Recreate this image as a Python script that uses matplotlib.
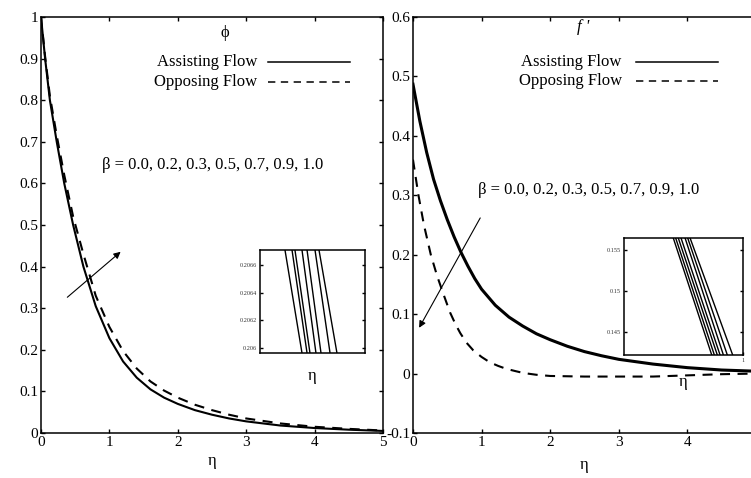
import matplotlib.pyplot as plt
from matplotlib.ticker import FuncFormatter

plt.rcParams['font.family'] = ['Liberation Serif', 'DejaVu Serif']

# ---- data ----
beta_text = "β = 0.0, 0.2, 0.3, 0.5, 0.7, 0.9, 1.0"

# left panel: concentration phi
eta_phi = [0, 0.06, 0.13, 0.23, 0.34, 0.47, 0.62, 0.8, 1.0, 1.2, 1.4, 1.6, 1.8, 2.0,
           2.25, 2.5, 2.75, 3.0, 3.5, 4.0, 4.5, 5.0]
phi_assist = [1.0, 0.9, 0.8, 0.7, 0.6, 0.5, 0.4, 0.305, 0.228, 0.172, 0.133, 0.105, 0.085, 0.07,
              0.055, 0.044, 0.035, 0.028, 0.018, 0.012, 0.008, 0.005]
phi_oppose = [1.0, 0.905, 0.81, 0.715, 0.62, 0.52, 0.43, 0.33, 0.255, 0.197, 0.155, 0.124, 0.102, 0.085,
              0.068, 0.055, 0.044, 0.035, 0.023, 0.015, 0.01, 0.006]

# right panel: velocity f'
eta_f_assist = [0, 0.1, 0.2, 0.3, 0.4, 0.5, 0.6, 0.7, 0.8, 0.9, 1.0, 1.2, 1.4, 1.6, 1.8, 2.0,
                2.25, 2.5, 2.75, 3.0, 3.5, 4.0, 4.5, 5.0]
f_assist = [0.487, 0.425, 0.372, 0.327, 0.291, 0.259, 0.230, 0.204, 0.181, 0.160, 0.142, 0.115,
            0.095, 0.080, 0.067, 0.057, 0.046, 0.037, 0.030, 0.024, 0.016, 0.010, 0.006, 0.004]
eta_f_oppose = [0, 0.04, 0.08, 0.16, 0.26, 0.35, 0.44, 0.54, 0.62, 0.69, 0.78, 0.88, 1.0, 1.12,
                1.24, 1.36, 1.5, 1.61, 1.8, 2.0, 2.5, 3.0, 3.5, 4.0, 4.5, 5.0]
f_oppose = [0.36, 0.33, 0.30, 0.25, 0.20, 0.165, 0.135, 0.103, 0.083, 0.068, 0.052, 0.039, 0.028,
            0.019, 0.013, 0.008, 0.004, 0.001, -0.002, -0.004, -0.005, -0.005, -0.005, -0.003,
            -0.001, 0.0]

# zoomed insets: one line per beta, x where it enters the top and leaves the bottom
phi_inset_ylim = [0.20596, 0.20671]
phi_inset_top = [0.238, 0.305, 0.333, 0.400, 0.448, 0.524, 0.562]
phi_inset_bot = [0.400, 0.448, 0.476, 0.533, 0.581, 0.667, 0.733]
phi_inset_ticks = [0.206, 0.2062, 0.2064, 0.2066]

f_inset_ylim = [0.1422, 0.1565]
f_inset_top = [0.414, 0.434, 0.456, 0.479, 0.513, 0.535, 0.555]
f_inset_bot = [0.737, 0.759, 0.784, 0.807, 0.835, 0.868, 0.913]
f_inset_ticks = [0.145, 0.15, 0.155]

fmt = FuncFormatter(lambda v, p: '%g' % round(v, 6))
dash = (0, (4.8, 3.6))


def style_box(ax, size=11):
    for s in ax.spines.values():
        s.set_linewidth(1.1)
    ax.tick_params(direction='in', top=True, right=True, length=3, width=1,
                   labelsize=size, pad=2)


def add_legend(ax, xt, x0, x1, y1, y2):
    ax.text(xt, y1, "Assisting Flow", transform=ax.transAxes, ha='right', va='center', fontsize=12)
    ax.text(xt, y2, "Opposing Flow", transform=ax.transAxes, ha='right', va='center', fontsize=12)
    ax.plot([x0, x1], [y1, y1], color='black', lw=1.1, transform=ax.transAxes)
    ax.plot([x0, x1], [y2, y2], color='black', lw=1.1, linestyle=dash, transform=ax.transAxes)


def draw_inset(ax, top, bot, ylim, ticks):
    for xt, xb in zip(top, bot):
        ax.plot([xt, xb], [ylim[1], ylim[0]], color='black', lw=1.0)
    ax.set_xlim(0, 1)
    ax.set_ylim(ylim)
    ax.set_yticks(ticks)
    ax.yaxis.set_major_formatter(fmt)
    for s in ax.spines.values():
        s.set_linewidth(1.1)
    ax.tick_params(direction='in', right=True, length=2, width=1,
                   labelsize=4.5, labelcolor='#333333', pad=2)


fig = plt.figure(figsize=(7.51, 4.78), dpi=100)

# ---- left panel ----
ax1 = fig.add_axes([0.0546, 0.0941, 0.4554, 0.8703])
ax1.plot(eta_phi, phi_assist, color='black', lw=1.5)
ax1.plot(eta_phi, phi_oppose, color='black', lw=1.5, linestyle=dash)
ax1.set_xlim(0, 5)
ax1.set_ylim(0, 1)
ax1.set_xticks(range(6))
ax1.set_yticks([i / 10 for i in range(11)])
ax1.xaxis.set_major_formatter(fmt)
ax1.yaxis.set_major_formatter(fmt)
style_box(ax1)
ax1.set_xlabel("η", fontsize=12, labelpad=3)
ax1.text(0.538, 0.962, "ϕ", transform=ax1.transAxes, ha='center', va='center', fontsize=12)
add_legend(ax1, 0.632, 0.664, 0.904, 0.892, 0.844)
ax1.text(0.178, 0.644, beta_text, transform=ax1.transAxes, ha='left', va='center', fontsize=12)
ax1.annotate("", xy=(1.195, 0.44), xytext=(0.354, 0.322),
             arrowprops=dict(arrowstyle='-|>', color='black', lw=0.8, mutation_scale=10))

# ---- right panel (its right edge runs past the picture, as in the original) ----
ax2 = fig.add_axes([0.5499, 0.0941, 0.4567, 0.8703])
ax2.plot(eta_f_assist, f_assist, color='black', lw=2.2)
ax2.plot(eta_f_oppose, f_oppose, color='black', lw=1.5, linestyle=dash)
ax2.set_xlim(0, 5)
ax2.set_ylim(-0.1, 0.6)
ax2.set_xticks(range(5))
ax2.set_yticks([i / 10 for i in range(-1, 7)])
ax2.xaxis.set_major_formatter(fmt)
ax2.yaxis.set_major_formatter(fmt)
style_box(ax2)
ax2.set_xlabel("η", fontsize=12, labelpad=6)
ax2.text(0.496, 0.975, "f '", transform=ax2.transAxes, ha='center', va='center',
         fontsize=12, style='italic')
add_legend(ax2, 0.609, 0.65, 0.889, 0.892, 0.846)
ax2.text(0.19, 0.584, beta_text, transform=ax2.transAxes, ha='left', va='center', fontsize=12)
ax2.annotate("", xy=(0.07, 0.073), xytext=(1.0, 0.266),
             arrowprops=dict(arrowstyle='-|>', color='black', lw=0.8, mutation_scale=10))

# ---- insets ----
in1 = fig.add_axes([0.3462, 0.2615, 0.1398, 0.2155])
draw_inset(in1, phi_inset_top, phi_inset_bot, phi_inset_ylim, phi_inset_ticks)
in1.set_xticks([])
in1.set_xlabel("η", fontsize=12, labelpad=11)

in2 = fig.add_axes([0.8309, 0.2573, 0.1585, 0.2448])
draw_inset(in2, f_inset_top, f_inset_bot, f_inset_ylim, f_inset_ticks)
in2.set_xticks([1])
in2.set_xticklabels(["1"])
in2.set_xlabel("η", fontsize=12, labelpad=8)

fig.savefig("out.png", dpi=100)
